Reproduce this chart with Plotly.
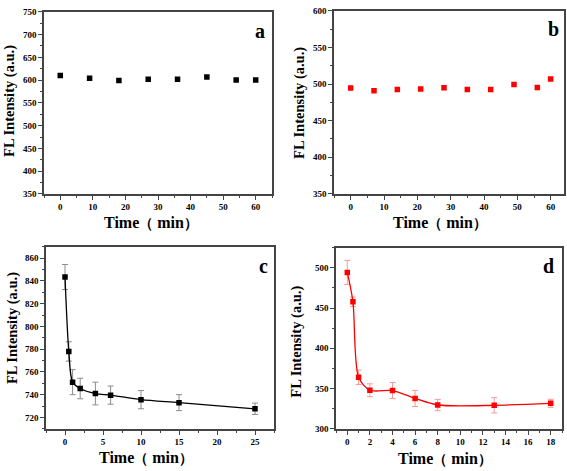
import plotly.graph_objects as go
from plotly.subplots import make_subplots

W, H = 567, 471

# ---- data ----
a_time = [0, 9, 18, 27, 36, 45, 54, 60]
a_int = [610, 604, 599, 602, 602, 607, 600, 600]

b_time = [0, 7, 14, 21, 28, 35, 42, 49, 56, 60]
b_int = [494.7, 491, 492.5, 493.4, 495, 492.5, 492.5, 499.3, 495.5, 507]

c_time = [0, 0.5, 1, 2, 4, 6, 10, 15, 25]
c_int = [843.4, 778, 751, 745.4, 741, 739.6, 735.6, 733, 727.6]
c_err = [11, 8.5, 11, 9, 10, 8, 8, 7, 5]

d_time = [0, 0.5, 1, 2, 4, 6, 8, 13, 18]
d_int = [494.3, 457.8, 364, 347.9, 347.5, 337.7, 329.6, 329.2, 331.7]
d_err = [15, 6, 9, 8, 10, 10, 7, 9.5, 5]

# ---- layout helpers ----
def px_dom(x0, x1, y0, y1):
    return [x0 / W, x1 / W], [1 - y1 / H, 1 - y0 / H]

panels = {
    1: px_dom(44, 272, 7, 193),
    2: px_dom(334, 564, 6, 193),
    3: px_dom(46, 274, 247, 433),
    4: px_dom(336, 562, 248, 433),
}

fig = make_subplots(rows=2, cols=2)

SERIF = "Liberation Serif"
BLACK = "#000000"
RED = "#ff0000"

fig.add_trace(go.Scatter(x=a_time, y=a_int, mode="markers",
                         marker=dict(symbol="square", size=5.5, color=BLACK),
                         showlegend=False), row=1, col=1)
fig.add_trace(go.Scatter(x=b_time, y=b_int, mode="markers",
                         marker=dict(symbol="square", size=5.5, color=RED),
                         showlegend=False), row=1, col=2)
fig.add_trace(go.Scatter(x=c_time, y=c_int, mode="lines+markers",
                         line=dict(color=BLACK, width=1.3, shape="spline", smoothing=0.8),
                         marker=dict(symbol="square", size=5.5, color=BLACK),
                         error_y=dict(type="data", array=c_err, color="#8c8c8c",
                                      thickness=1, width=3),
                         showlegend=False), row=2, col=1)
fig.add_trace(go.Scatter(x=d_time, y=d_int, mode="lines+markers",
                         line=dict(color=RED, width=1.3, shape="spline", smoothing=0.8),
                         marker=dict(symbol="square", size=5.5, color=RED),
                         error_y=dict(type="data", array=d_err, color="#f59a9a",
                                      thickness=1, width=3),
                         showlegend=False), row=2, col=2)

xcfg = {
    1: dict(range=[-5, 65], dtick=10, tick0=0, minor_dtick=5),
    2: dict(range=[-5, 64], dtick=10, tick0=0, minor_dtick=5),
    3: dict(range=[-2.5, 27.5], dtick=5, tick0=0, minor_dtick=2.5),
    4: dict(range=[-1, 19], dtick=2, tick0=0, minor_dtick=1),
}
ycfg = {
    1: dict(range=[350, 750], dtick=50, tick0=350, minor_dtick=25),
    2: dict(range=[350, 600], dtick=50, tick0=350, minor_dtick=25),
    3: dict(range=[710, 870], dtick=20, tick0=720, minor_dtick=10),
    4: dict(range=[300, 525], dtick=50, tick0=300, minor_dtick=25),
}

AXC = "#444444"
for i in range(1, 5):
    xd, yd = panels[i]
    xn = "xaxis" if i == 1 else f"xaxis{i}"
    yn = "yaxis" if i == 1 else f"yaxis{i}"
    xc, yc = xcfg[i], ycfg[i]
    common = dict(showgrid=False, zeroline=False, showline=True, linecolor=AXC,
                  linewidth=1.5, mirror=True, ticks="outside", ticklen=4,
                  tickwidth=1, tickcolor=AXC,
                  tickfont=dict(family=SERIF, size=9, color=BLACK, weight="bold"))
    fig.layout[xn].update(domain=xd, range=xc["range"], dtick=xc["dtick"], tick0=xc["tick0"],
                          minor=dict(dtick=xc["minor_dtick"], tick0=xc["tick0"], ticks="outside",
                                     ticklen=2, tickcolor=AXC, showgrid=False),
                          **common)
    fig.layout[yn].update(domain=yd, range=yc["range"], dtick=yc["dtick"], tick0=yc["tick0"],
                          minor=dict(dtick=yc["minor_dtick"], tick0=yc["tick0"], ticks="outside",
                                     ticklen=2, tickcolor=AXC, showgrid=False),
                          **common)

annots = []
def ann(text, x, y, size, angle=0):
    annots.append(dict(text=text, x=x / W, y=1 - y / H, xref="paper", yref="paper",
                       showarrow=False, textangle=angle, xanchor="center", yanchor="middle",
                       font=dict(family=SERIF, size=size, color=BLACK, weight="bold")))

ylab = "FL Intensity (a.u.)"
xlab = "Time<span style='font-size:14px'>（</span> min<span style='font-size:14px'>）</span>"
ann(ylab, 10, 98, 14.5, -90)
ann(ylab, 300, 100, 14.5, -90)
ann(ylab, 13, 330, 14.5, -90)
ann(ylab, 297, 344, 14.5, -90)
ann(xlab, 151, 222, 16)
ann(xlab, 440, 222, 16)
ann(xlab, 146, 462, 16)
ann(xlab, 445, 463, 16)
ann("a", 260, 27, 20)
ann("b", 553, 25, 20)
ann("c", 263, 267, 20)
ann("d", 548, 267, 20)

fig.update_layout(width=W, height=H, margin=dict(l=0, r=0, t=0, b=0),
                  paper_bgcolor="white", plot_bgcolor="white",
                  annotations=annots, showlegend=False)

fig.write_html("out.html", config={"displayModeBar": False},
               post_script="document.body.style.margin='0';document.body.style.overflow='hidden';")
